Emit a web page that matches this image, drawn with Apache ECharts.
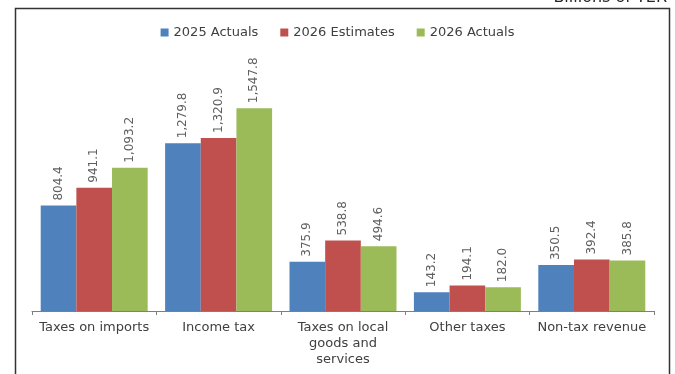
<!DOCTYPE html>
<html>
<head>
<meta charset="utf-8">
<script src="https://cdn.jsdelivr.net/npm/echarts@6/dist/echarts.min.js"></script>
<style>
  html, body { margin: 0; padding: 0; background: #fff; }
  #chart { width: 675px; height: 374px; }
</style>
</head>
<body>
<div id="chart"></div>
<script>
// Government revenue by source, billions of YER
const categories = ['Taxes on imports', 'Income tax', 'Taxes on local\ngoods and\nservices', 'Other taxes', 'Non-tax revenue'];
const seriesNames = ['2025 Actuals', '2026 Estimates', '2026 Actuals'];
const actuals2025 = [804.4, 1279.8, 375.9, 143.2, 350.5];
const estimates2026 = [941.1, 1320.9, 538.8, 194.1, 392.4];
const actuals2026 = [1093.2, 1547.8, 494.6, 182.0, 385.8];
const unitLabel = 'Billions of YER';

const colors = ['#4F81BD', '#C0504D', '#9BBB59'];
const font = 'DejaVu Sans';

function barSeries(name, data, color) {
  return {
    name: name,
    type: 'bar',
    data: data,
    itemStyle: { color: color },
    barGap: '0%',
    barCategoryGap: '14%',
    label: {
      show: true,
      position: 'top',
      rotate: 90,
      align: 'left',
      verticalAlign: 'middle',
      distance: 5,
      color: '#5f5f5f',
      fontFamily: font,
      fontSize: 12,
      formatter: p => p.value.toLocaleString('en-US', { minimumFractionDigits: 1, maximumFractionDigits: 1 })
    }
  };
}

const chart = echarts.init(document.getElementById('chart'), null, { renderer: 'canvas' });
chart.setOption({
  animation: false,
  backgroundColor: '#ffffff',
  color: colors,
  legend: {
    top: 21,
    left: 'center',
    itemWidth: 8,
    itemHeight: 8,
    itemGap: 22,
    icon: 'rect',
    textStyle: { color: '#404040', fontFamily: font, fontSize: 13 },
    data: seriesNames
  },
  grid: { left: 32, right: 21, top: 49, bottom: 63 },
  xAxis: {
    type: 'category',
    data: categories,
    axisLine: { lineStyle: { color: '#7f7f7f', width: 1 } },
    axisTick: { show: true, length: 4, lineStyle: { color: '#7f7f7f' } },
    axisLabel: { color: '#404040', fontFamily: font, fontSize: 13, margin: 9, lineHeight: 16, interval: 0 }
  },
  yAxis: {
    type: 'value',
    min: 0,
    max: 2000,
    show: false,
    splitLine: { show: false }
  },
  series: [
    barSeries(seriesNames[0], actuals2025, colors[0]),
    barSeries(seriesNames[1], estimates2026, colors[1]),
    barSeries(seriesNames[2], actuals2026, colors[2])
  ],
  graphic: [
    {
      type: 'rect',
      shape: { x: 15.5, y: 8.5, width: 654, height: 380 },
      style: { fill: 'none', stroke: '#333333', lineWidth: 1.5 },
      z: 10
    },
    {
      type: 'text',
      x: 667,
      y: 6,
      style: {
        text: unitLabel,
        fill: '#262626',
        font: '16px "DejaVu Sans"',
        align: 'right',
        verticalAlign: 'bottom'
      }
    }
  ]
});
</script>
</body>
</html>
